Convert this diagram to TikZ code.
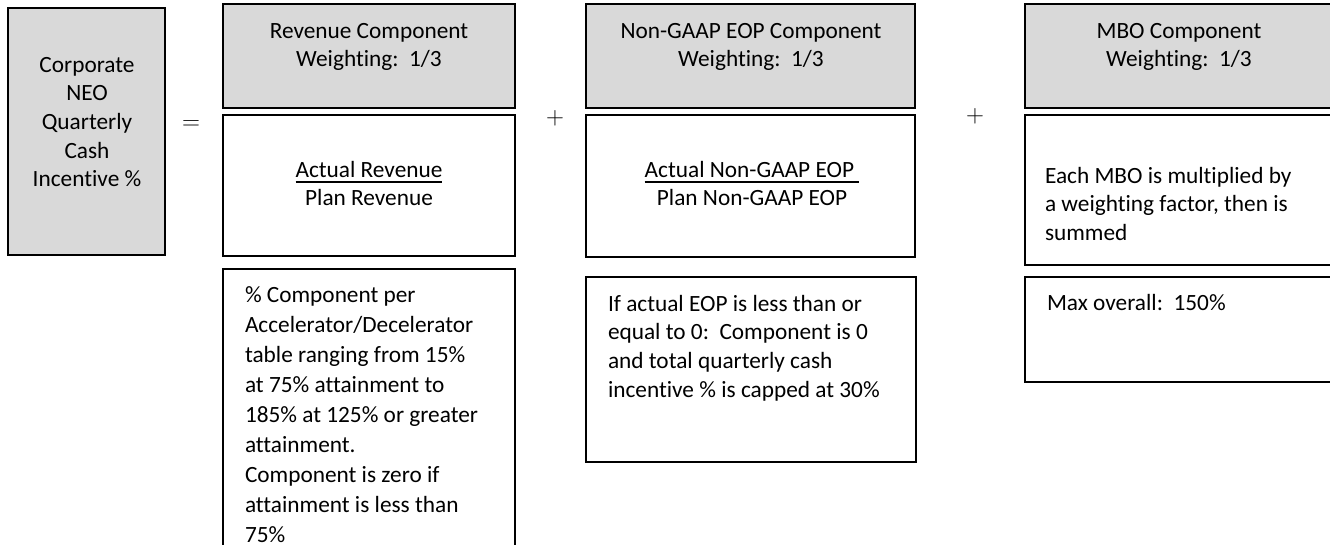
\documentclass[tikz,border=0pt]{standalone}
\usepackage{fontspec}
\setmainfont{Carlito}[Ligatures=NoCommon]
\newcommand{\fs}{\fontsize{23.3}{28.7}\selectfont}
\newcommand{\Lcol}[1]{\vtop{\halign{##\hfil\cr#1\crcr}}}
\newcommand{\Ccol}[1]{\vtop{\halign{\hfil##\hfil\cr#1\crcr}}}
\newcommand{\ulx}[1]{\setbox0\hbox{#1}\rlap{\raisebox{-6pt}{\rule{\wd0}{2pt}}}\box0}
\definecolor{hdrgray}{HTML}{D9D9D9}
\begin{document}
\begin{tikzpicture}[x=1pt, y=-1pt,
  every node/.style={inner sep=0pt, outer sep=0pt},
  plainbox/.style={draw=black, line width=2.4pt, fill=white, anchor=north west},
  graybox/.style={plainbox, fill=hdrgray},
  txt/.style={font=\fs, text=black},
  opsym/.style={font=\fontsize{23}{27}\selectfont}]
\useasboundingbox (0,0) rectangle (1330,544);
% boxes
\node[graybox, minimum width=157pt, minimum height=247pt] (corp) at (8,8) {};
\node[graybox, minimum width=292pt, minimum height=104pt] (revH) at (223,4) {};
\node[plainbox, minimum width=292pt, minimum height=141pt] (revB) at (223,115) {};
\node[plainbox, minimum width=292pt, minimum height=300pt] (revN) at (223,269) {};
\node[graybox, minimum width=329pt, minimum height=104pt] (ngH) at (586,4) {};
\node[plainbox, minimum width=329pt, minimum height=142pt] (ngB) at (586,115) {};
\node[plainbox, minimum width=330pt, minimum height=185pt] (ngN) at (586,277) {};
\node[graybox, minimum width=308pt, minimum height=104pt] (mboH) at (1025,4) {};
\node[plainbox, minimum width=308pt, minimum height=150pt] (mboB) at (1025,115) {};
\node[plainbox, minimum width=308pt, minimum height=105pt] (mboN) at (1025,277) {};
% texts
\node[txt, anchor=base] (corpT) at (87,72) {\Ccol{Corporate\cr NEO\cr Quarterly\cr Cash\cr Incentive \%}};
\node[txt, anchor=base] (revHT) at (369,38) {\Ccol{Revenue Component\cr Weighting:\ \ 1/3}};
\node[txt, anchor=base] (revBT) at (369,177) {\Ccol{\ulx{Actual Revenue}\cr Plan Revenue}};
\node[txt, anchor=base west] (revNT) at (245,302) {\baselineskip=30pt\Lcol{\% Component per\cr Accelerator/Decelerator\cr table ranging from 15\%\cr at 75\% attainment to\cr 185\% at 125\% or greater\cr attainment.\cr Component is zero if\cr attainment is less than\cr 75\%}};
\node[txt, anchor=base] (ngHT) at (751,38) {\Ccol{Non-GAAP EOP Component\cr Weighting:\ \ 1/3}};
\node[txt, anchor=base] (ngBT) at (752,177) {\Ccol{\ulx{Actual Non-GAAP EOP\ }\cr Plan Non-GAAP EOP}};
\node[txt, anchor=base west] (ngNT) at (608,311) {\Lcol{If actual EOP is less than or\cr equal to 0:\ \ Component is 0\cr and total quarterly cash\cr incentive \% is capped at 30\%}};
\node[txt, anchor=base] (mboHT) at (1179,38) {\Ccol{MBO Component\cr Weighting:\ \ 1/3}};
\node[txt, anchor=base west] (mboBT) at (1045,183) {\Lcol{Each MBO is multiplied by\cr a weighting factor, then is\cr summed}};
\node[txt, anchor=base west] (mboNT) at (1047,310) {Max overall:\ \ 150\%};
% operators
\node[opsym] (eq) at (191,125) {$=$};
\node[opsym] (plus1) at (555,118.5) {$+$};
\node[opsym] (plus2) at (975,116) {$+$};
\end{tikzpicture}
\end{document}
